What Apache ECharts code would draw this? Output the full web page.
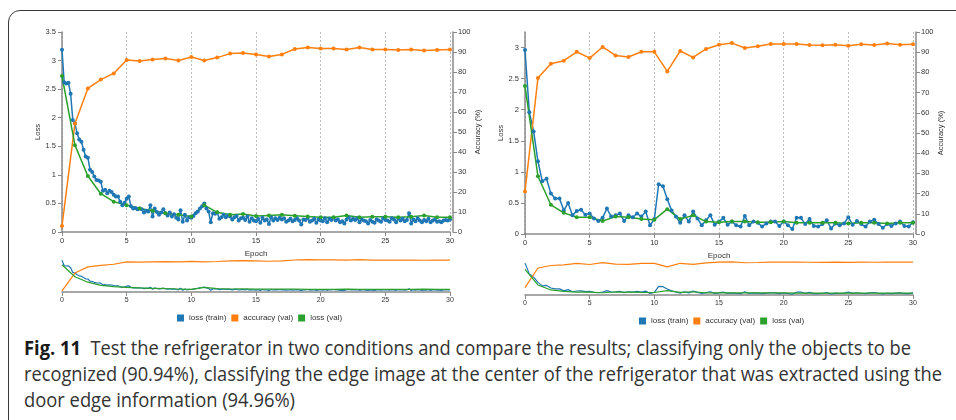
<!DOCTYPE html>
<html>
<head>
<meta charset="utf-8">
<script src="https://cdn.jsdelivr.net/npm/echarts@6/dist/echarts.min.js"></script>
<style>
  html, body { margin: 0; padding: 0; background: #fff; overflow: hidden; }
  #wrap { position: relative; width: 956px; height: 420px; overflow: hidden; }
  #frame { position: absolute; left: 8px; top: 10px; width: 990px; height: 460px; border: 1.5px solid #3a3a3a; border-top-left-radius: 12px; box-sizing: border-box; }
  #chart { position: absolute; left: 0; top: 0; width: 956px; height: 332px; }
  #caption { position: absolute; left: 24px; top: 335px; font-family: 'Open Sans', 'Noto Sans', sans-serif; font-size: 20px; line-height: 26px; color: #333; }
  #caption .ln { display: block; width: max-content; white-space: nowrap; transform-origin: 0 0; }
  #caption b { color: #1a1a1a; font-weight: 700; }
</style>
</head>
<body>
<div id="wrap">
  <div id="frame"></div>
  <div id="chart"></div>
  <div id="caption">
    <span class="ln"><b>Fig. 11</b>&nbsp; Test the refrigerator in two conditions and compare the results; classifying only the objects to be</span>
    <span class="ln">recognized (90.94%), classifying the edge image at the center of the refrigerator that was extracted using the</span>
    <span class="ln">door edge information (94.96%)</span>
  </div>
</div>
<script>
// ---- data: left panel (objects only), 6 train samples per epoch
const trainLossA = [
  3.19, 2.62, 2.6, 2.61, 2.42, 1.96,
  1.9, 1.73, 1.62, 1.58, 1.44, 1.32,
  1.3, 1.09, 1.05, 0.97, 0.91, 0.9,
  0.88, 0.72, 0.74, 0.68, 0.72, 0.7,
  0.65, 0.62, 0.62, 0.53, 0.47, 0.51,
  0.58, 0.62, 0.45, 0.41, 0.42, 0.4,
  0.41, 0.4, 0.34, 0.37, 0.36, 0.47,
  0.27, 0.41, 0.35, 0.3, 0.34, 0.4,
  0.33, 0.29, 0.34, 0.27, 0.31, 0.25,
  0.22, 0.38, 0.18, 0.3, 0.2, 0.26,
  0.25, 0.28, 0.33, 0.36, 0.41, 0.45,
  0.5, 0.41, 0.36, 0.17, 0.33, 0.32,
  0.34, 0.23, 0.26, 0.3, 0.26, 0.29,
  0.27, 0.22, 0.26, 0.28, 0.2, 0.24,
  0.25, 0.21, 0.27, 0.18, 0.24, 0.2,
  0.19, 0.23, 0.16, 0.25, 0.2, 0.22,
  0.14, 0.26, 0.2, 0.24, 0.21, 0.25,
  0.22, 0.24, 0.18, 0.2, 0.23, 0.19,
  0.21, 0.24, 0.2, 0.13, 0.22, 0.21,
  0.25, 0.18, 0.2, 0.23, 0.16, 0.22,
  0.2, 0.19, 0.24, 0.17, 0.23, 0.21,
  0.25, 0.2, 0.22, 0.17, 0.19, 0.15,
  0.22, 0.26, 0.2, 0.23, 0.21, 0.24,
  0.17, 0.22, 0.2, 0.19, 0.15, 0.21,
  0.18, 0.16, 0.22, 0.2, 0.18, 0.24,
  0.21, 0.2, 0.18, 0.24, 0.22, 0.17,
  0.24, 0.2, 0.23, 0.19, 0.21, 0.33,
  0.15, 0.22, 0.19, 0.24, 0.2, 0.17,
  0.21, 0.19, 0.23, 0.17, 0.2, 0.22,
  0.18, 0.19, 0.17, 0.2, 0.21, 0.2,
  0.22
];
const accA = [3, 54.2, 71.8, 76.2, 79.3, 86, 85.5, 86.3, 86.7, 85.8, 87.5, 85.8, 87.2, 89.2, 89.5, 88.8,
  87.8, 88.8, 91.5, 92.3, 91.8, 91.8, 91.3, 92.3, 91.3, 91.3, 91, 91.3, 90.7, 91, 91.3];
const valLossA = [2.73, 1.52, 0.98, 0.67, 0.53, 0.47, 0.41, 0.37, 0.33, 0.3, 0.27, 0.47, 0.345, 0.3, 0.315, 0.28,
  0.29, 0.3, 0.285, 0.27, 0.26, 0.26, 0.29, 0.26, 0.265, 0.265, 0.26, 0.265, 0.29, 0.26, 0.26];

// ---- data: right panel (edge image), 3 train samples per epoch
const trainLossB = [
  2.96, 1.96, 1.65, 1.17, 0.85, 0.89, 0.65, 0.57, 0.57, 0.38, 0.5, 0.3,
  0.37, 0.39, 0.31, 0.33, 0.25, 0.21, 0.26, 0.41, 0.28, 0.3, 0.33, 0.21,
  0.3, 0.27, 0.33, 0.28, 0.36, 0.14, 0.24, 0.8, 0.77, 0.56, 0.38, 0.28,
  0.18, 0.3, 0.2, 0.36, 0.25, 0.14, 0.22, 0.3, 0.15,
  0.2, 0.26, 0.15, 0.2, 0.14, 0.12, 0.29, 0.14, 0.2, 0.18, 0.12, 0.17,
  0.2, 0.2, 0.13, 0.2, 0.14, 0.08, 0.26, 0.26, 0.16, 0.24, 0.13, 0.12,
  0.16, 0.22, 0.09, 0.17, 0.14, 0.17, 0.27, 0.15, 0.21, 0.16, 0.12, 0.2,
  0.23, 0.16, 0.1, 0.16, 0.13, 0.17, 0.2, 0.13, 0.12, 0.19
];
const accB = [21.1, 77.2, 84.3, 85.8, 90.2, 87.1, 92.6, 88.4, 87.6, 90.2, 90.2, 80.5, 90.6, 87.4, 91.6, 93.7,
  94.5, 92.1, 92.9, 94.1, 94.1, 94.1, 93.6, 93.4, 93.7, 93.2, 93.9, 93.6, 94.3, 93.7, 93.9];
const valLossB = [2.38, 0.93, 0.47, 0.34, 0.27, 0.27, 0.21, 0.28, 0.27, 0.24, 0.23, 0.4, 0.24, 0.3, 0.2, 0.19,
  0.2, 0.2, 0.19, 0.19, 0.2, 0.18, 0.18, 0.18, 0.18, 0.17, 0.18, 0.18, 0.17, 0.18, 0.18];

const seriesNames = ['loss (train)', 'accuracy (val)', 'loss (val)'];

const COLORS = { train: '#1f77b4', acc: '#ff7f0e', val: '#2ca02c' };
const AXIS = '#8a8a8a', TEXT = '#333', FONT = '"Liberation Sans", Arial, sans-serif';

const panels = [
  { left: 62, mainTop: 32, mainH: 200, ovTop: 257, ovH: 35, lossMax: 3.5, legendLeft: 177, legendTop: 314,
    train: trainLossA, perEpoch: 6, acc: accA, val: valLossA },
  { left: 525, mainTop: 32, mainH: 202, ovTop: 260, ovH: 35, lossMax: 3.25, legendLeft: 639, legendTop: 317,
    train: trainLossB, perEpoch: 3, acc: accB, val: valLossB },
];

const pairs = (vals, perEpoch) => vals.map((v, i) => [i / perEpoch, v]);

const grid = [], xAxis = [], yAxis = [], series = [], legend = [];
const lbl = (size) => ({ color: TEXT, fontSize: size, fontFamily: FONT });

panels.forEach((p, k) => {
  const gMain = k * 2, gOv = k * 2 + 1;
  grid.push({ left: p.left, top: p.mainTop, width: 388, height: p.mainH });
  grid.push({ left: p.left, top: p.ovTop, width: 388, height: p.ovH });

  // x axes
  xAxis.push({
    gridIndex: gMain, type: 'value', min: 0, max: 30, interval: 5,
    name: 'Epoch', nameLocation: 'middle', nameGap: 13, nameTextStyle: lbl(8),
    axisLine: { onZero: false, lineStyle: { color: AXIS, width: 1.5 } },
    axisTick: { length: 4, lineStyle: { color: AXIS } },
    axisLabel: { ...lbl(7.5), margin: 5 },
    splitLine: { show: true, lineStyle: { color: '#bdbdbd', type: [2, 2], width: 1 } },
  });
  xAxis.push({
    gridIndex: gOv, type: 'value', min: 0, max: 30, interval: 5,
    axisLine: { onZero: false, lineStyle: { color: AXIS, width: 1.5 } },
    axisTick: { length: 4, lineStyle: { color: AXIS } },
    axisLabel: { ...lbl(7), margin: 5 },
    splitLine: { show: false },
  });

  // y axes: main loss, main accuracy, overview loss, overview accuracy
  yAxis.push({
    gridIndex: gMain, type: 'value', position: 'left', min: 0, max: p.lossMax, interval: 0.5,
    name: 'Loss', nameLocation: 'middle', nameGap: 20, nameRotate: 90, nameTextStyle: lbl(7.5),
    axisLine: { show: true, onZero: false, lineStyle: { color: AXIS, width: 1.5 } },
    axisTick: { show: true, length: 4, lineStyle: { color: AXIS } },
    axisLabel: { ...lbl(7.5), margin: 6, showMaxLabel: p.lossMax === 3.5 },
    splitLine: { show: false },
  });
  yAxis.push({
    gridIndex: gMain, type: 'value', position: 'right', offset: 3, min: 0, max: 100, interval: 10,
    name: 'Accuracy (%)', nameLocation: 'middle', nameGap: 19, nameRotate: 90, nameTextStyle: lbl(7.5),
    axisLine: { show: true, onZero: false, lineStyle: { color: AXIS, width: 1.5 } },
    axisTick: { show: true, length: 4, lineStyle: { color: AXIS } },
    axisLabel: { ...lbl(7.5), margin: 5 },
    splitLine: { show: false },
  });
  yAxis.push({ gridIndex: gOv, type: 'value', min: 0, max: p.lossMax, show: false, splitLine: { show: false } });
  yAxis.push({ gridIndex: gOv, type: 'value', min: 0, max: 100, show: false, splitLine: { show: false } });

  const xm = k * 2, xo = k * 2 + 1, yl = k * 4, ya = k * 4 + 1, ylo = k * 4 + 2, yao = k * 4 + 3;
  const epochs = (vals) => pairs(vals, 1);

  const mainLine = (name, data, color, yi) => ({
    name, type: 'line', xAxisIndex: xm, yAxisIndex: yi, data, color,
    symbol: 'circle', symbolSize: 4, showSymbol: true,
    lineStyle: { width: 1.5, color }, itemStyle: { color }, animation: false,
  });
  const ovLine = (name, data, color, yi) => ({
    name, type: 'line', xAxisIndex: xo, yAxisIndex: yi, data, color,
    showSymbol: false, lineStyle: { width: 1.2, color }, itemStyle: { color }, animation: false,
  });

  series.push(mainLine(seriesNames[0], pairs(p.train, p.perEpoch), COLORS.train, yl));
  series.push(mainLine(seriesNames[1], epochs(p.acc), COLORS.acc, ya));
  series.push(mainLine(seriesNames[2], epochs(p.val), COLORS.val, yl));
  series.push(ovLine(seriesNames[0], pairs(p.train, p.perEpoch), COLORS.train, ylo));
  series.push(ovLine(seriesNames[1], epochs(p.acc), COLORS.acc, yao));
  series.push(ovLine(seriesNames[2], epochs(p.val), COLORS.val, ylo));

  legend.push({
    data: seriesNames, left: p.legendLeft, top: p.legendTop, padding: 0,
    icon: 'rect', itemWidth: 7, itemHeight: 7, itemGap: 5,
    textStyle: lbl(8),
  });
});

const chart = echarts.init(document.getElementById('chart'));
chart.setOption({
  backgroundColor: 'transparent',
  animation: false,
  textStyle: { fontFamily: FONT },
  grid, xAxis, yAxis, series, legend,
});

// squeeze each caption line to the measured width of the printed caption
const lineTargets = [887, 918, 271];
function fitCaption() {
  document.querySelectorAll('#caption .ln').forEach((el, i) => {
    el.style.transform = 'none';
    const w = el.getBoundingClientRect().width;
    el.style.transform = 'scaleX(' + (lineTargets[i] / w) + ')';
  });
}
fitCaption();
if (document.fonts) document.fonts.ready.then(fitCaption);
</script>
</body>
</html>
